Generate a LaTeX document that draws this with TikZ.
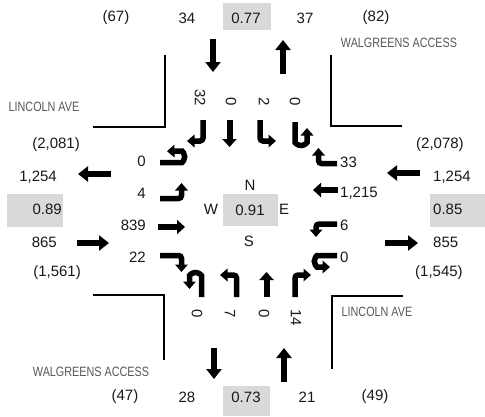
\documentclass[tikz,border=0pt]{standalone}
\usepackage{fontspec}
\setmainfont{Liberation Sans}
\usepackage{graphicx}
\usetikzlibrary{arrows.meta}
\newcommand{\streetlbl}[1]{\scalebox{0.8}[1]{\fontsize{13.5}{13.5}\selectfont #1}}
\begin{document}
\begin{tikzpicture}[x=1pt,y=-1pt,
  num/.style={inner sep=0pt, font=\fontsize{15}{15}\selectfont, text=black!90},
  rnum/.style={num, rotate=-90},
  lbl/.style={inner sep=0pt, text=black!65},
  gbox/.style={fill=black!15, draw=none},
  curb/.style={line width=1.8pt},
  bigarr/.style={line width=6.5pt, -{Triangle[width=15pt,length=10pt]}},
  thru/.style={line width=6pt, -{Triangle[width=14pt,length=8pt]}},
  turn/.style={line width=5.5pt, rounded corners=3pt, -{Triangle[width=12.5pt,length=7.5pt]}},
]
\useasboundingbox (0,0) rectangle (485,416);
\fill[white] (0,0) rectangle (485,416);

% gray boxes
\fill[gbox] (223,3) rectangle (271,30);
\fill[gbox] (223,386) rectangle (270,416);
\fill[gbox] (7,194) rectangle (63,227);
\fill[gbox] (430,194) rectangle (485,227);
\fill[gbox] (223,194) rectangle (278,226);

% curbs
\draw[curb] (93,127) -- (165,127) -- (165,55);
\draw[curb] (331,55) -- (331,126) -- (402,126);
\draw[curb] (93,295) -- (164,295) -- (164,360);
\draw[curb] (332,369) -- (332,296) -- (403,296);

% street labels
\node[lbl] (lincW) at (44,107) {\streetlbl{LINCOLN AVE}};
\node[lbl] (lincE) at (377,312) {\streetlbl{LINCOLN AVE}};
\node[lbl] (walN) at (399,43) {\streetlbl{WALGREENS ACCESS}};
\node[lbl] (walS) at (91,372) {\streetlbl{WALGREENS ACCESS}};

% top row
\node[num] (t1) at (116,18) {(67)};
\node[num] (t2) at (187,18) {34};
\node[num] (t3) at (246,18) {0.77};
\node[num] (t4) at (305,18) {37};
\node[num] (t5) at (376,18) {(82)};
% bottom row
\node[num] (b1) at (125,397) {(47)};
\node[num] (b2) at (187,397) {28};
\node[num] (b3) at (246,397) {0.73};
\node[num] (b4) at (307,397) {21};
\node[num] (b5) at (375,397) {(49)};
% left side
\node[num,anchor=east] (l1) at (80,145) {(2,081)};
\node[num,anchor=east] (l2) at (57,177) {1,254};
\node[num,anchor=east] (l3) at (62,209) {0.89};
\node[num,anchor=east] (l4) at (57,242) {865};
\node[num,anchor=east] (l5) at (81,273) {(1,561)};
% right side
\node[num,anchor=west] (r1) at (416,145) {(2,078)};
\node[num,anchor=west] (r2) at (433,177) {1,254};
\node[num,anchor=west] (r3) at (433,209) {0.85};
\node[num,anchor=west] (r4) at (433,242) {855};
\node[num,anchor=west] (r5) at (415,273) {(1,545)};

% approach volumes
\node[num,anchor=east] (eb1) at (146,161) {0};
\node[num,anchor=east] (eb2) at (146,193) {4};
\node[num,anchor=east] (eb3) at (146,225) {839};
\node[num,anchor=east] (eb4) at (146,257) {22};
\node[num,anchor=west] (wb1) at (340,162) {33};
\node[num,anchor=west] (wb2) at (340,193) {1,215};
\node[num,anchor=west] (wb3) at (340,225) {6};
\node[num,anchor=west] (wb4) at (340,257) {0};
\node[rnum,anchor=east] (sb1) at (200,106) {32};
\node[rnum,anchor=east] (sb2) at (231,106) {0};
\node[rnum,anchor=east] (sb3) at (264,106) {2};
\node[rnum,anchor=east] (sb4) at (295,106) {0};
\node[rnum,anchor=west] (nb1) at (197,309) {0};
\node[rnum,anchor=west] (nb2) at (230,309) {7};
\node[rnum,anchor=west] (nb3) at (264,309) {0};
\node[rnum,anchor=west] (nb4) at (296,309) {14};

% center
\node[num] (cN) at (250,185) {N};
\node[num] (cPHF) at (250,210) {0.91};
\node[num] (cW) at (211,209) {W};
\node[num] (cE) at (284,209) {E};
\node[num] (cS) at (249,241) {S};

% outer arrows
\draw[bigarr] (213,39) -- (213,72);
\draw[bigarr] (283,74) -- (283,40);
\draw[bigarr] (214,348) -- (214,379);
\draw[bigarr] (284,382) -- (284,348);
\draw[bigarr] (111,174) -- (78,174);
\draw[bigarr] (77,243) -- (109,243);
\draw[bigarr] (420,173) -- (387,173);
\draw[bigarr] (385,243) -- (418,243);

% eastbound
\draw[turn] (160,162.5) -- (179,162.5) arc[start angle=90,end angle=-90,radius=5.75] -- (167,151.25);
\draw[turn] (160,198.5) -- (181.5,198.5) -- (181.5,183);
\draw[thru] (158,227) -- (185,227);
\draw[turn] (160,255.5) -- (181.5,255.5) -- (181.5,272);
% westbound
\draw[turn] (337,163.5) -- (318.5,163.5) -- (318.5,148);
\draw[thru] (338,190) -- (313,190);
\draw[turn] (337,224) -- (316,224) -- (316,237);
\draw[turn] (337,255.5) -- (320,255.5) arc[start angle=-90,end angle=-270,radius=5.75] -- (330,267);
% southbound
\draw[turn] (203,120) -- (203,141) -- (187,141);
\draw[thru] (229.5,120) -- (229.5,147);
\draw[turn] (260,120) -- (260,141) -- (276,141);
\draw[turn] (295,122) -- (295,139.5) arc[start angle=180,end angle=0,radius=6] -- (307,128);
% northbound
\draw[turn] (201.5,297) -- (201.5,278.5) arc[start angle=0,end angle=-180,radius=6] -- (189.5,289);
\draw[turn] (236.5,297) -- (236.5,275) -- (220,275);
\draw[thru] (266.5,297) -- (266.5,272);
\draw[turn] (295,297) -- (295,275) -- (311,275);
\end{tikzpicture}
\end{document}
